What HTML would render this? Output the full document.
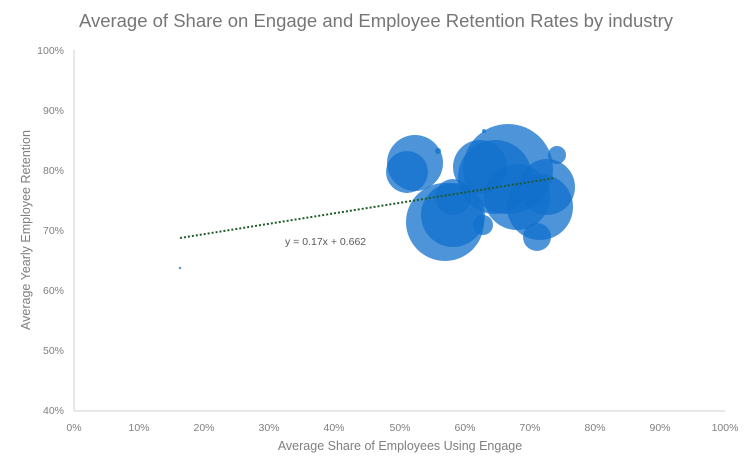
<!DOCTYPE html><html><head><style>body{margin:0;background:#fff}svg{display:block}text{font-family:"Liberation Sans",sans-serif;fill:#7f7f7f}</style></head><body>
<svg width="752" height="470" xmlns="http://www.w3.org/2000/svg">
<rect width="752" height="470" fill="#fff"/>
<text x="376" y="27" text-anchor="middle" style="font-size:18.5px;fill:#767676">Average of Share on Engage and Employee Retention Rates by industry</text>
<line x1="74" y1="50" x2="74" y2="411" stroke="#d0d0d0"/>
<line x1="74" y1="411" x2="725" y2="411" stroke="#d0d0d0"/>
<g style="font-size:10.5px" text-anchor="end">
<text x="64" y="54">100%</text><text x="64" y="114">90%</text><text x="64" y="174">80%</text><text x="64" y="234">70%</text><text x="64" y="294">60%</text><text x="64" y="354">50%</text><text x="64" y="414">40%</text></g>
<g style="font-size:10.5px" text-anchor="middle">
<text x="74" y="431">0%</text><text x="139" y="431">10%</text><text x="204" y="431">20%</text><text x="269" y="431">30%</text><text x="334" y="431">40%</text><text x="400" y="431">50%</text><text x="465" y="431">60%</text><text x="530" y="431">70%</text><text x="595" y="431">80%</text><text x="660" y="431">90%</text><text x="725" y="431">100%</text></g>
<text x="400" y="450" text-anchor="middle" style="font-size:12.5px">Average Share of Employees Using Engage</text>
<text transform="translate(30,230) rotate(-90)" text-anchor="middle" style="font-size:12.5px">Average Yearly Employee Retention</text>
<g fill="#1170cc" fill-opacity="0.75">
<circle cx="445" cy="222" r="39"/><circle cx="453" cy="215" r="32"/>
<circle cx="415" cy="163" r="28"/><circle cx="407" cy="172" r="21"/>
<circle cx="508" cy="169" r="45"/><circle cx="495" cy="177" r="37"/>
<circle cx="480" cy="167" r="27"/><circle cx="517" cy="197" r="33"/>
<circle cx="547" cy="187" r="28"/><circle cx="540" cy="207" r="33"/>
<circle cx="537" cy="237" r="14"/>
<circle cx="483" cy="225" r="10"/><circle cx="557" cy="155" r="9"/>
<circle cx="453" cy="197" r="18"/><circle cx="484" cy="131" r="2"/>
<circle cx="438" cy="151" r="3"/><circle cx="180" cy="268" r="1.2"/>
</g>
<line x1="180" y1="238" x2="555" y2="178" stroke="#1e5c2a" stroke-width="2" stroke-dasharray="2,2"/>
<text x="285" y="245" style="font-size:10.5px;fill:#595959">y = 0.17x + 0.662</text>
</svg></body></html>
